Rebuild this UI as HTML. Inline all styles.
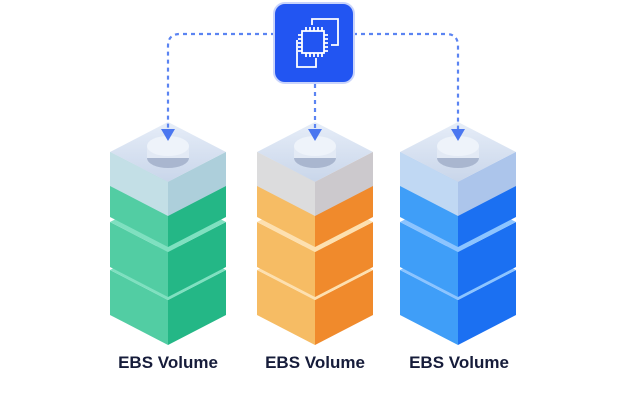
<!DOCTYPE html>
<html><head><style>
body{margin:0;background:#fff;width:628px;height:401px;overflow:hidden;font-family:"Liberation Sans",sans-serif}
.l{position:absolute;top:353px;font-weight:bold;font-size:17px;color:#161c3a;width:140px;text-align:center}
</style></head><body>
<svg width="628" height="401" style="position:absolute;left:0;top:0">
<defs>
<linearGradient id="gt" x1="0" y1="0" x2="0" y2="1"><stop offset="0" stop-color="#e6edf8"/><stop offset="1" stop-color="#c9d6ea"/></linearGradient>
</defs>
<g id="s"></g>
<g fill="none" stroke="#5b84f2" stroke-width="2.2" stroke-dasharray="4 4">
<path d="M275 34 H180 Q168 34 168 46 V129"/>
<path d="M353 34 H446 Q458 34 458 46 V129"/>
<path d="M315 84 V129"/>
</g>
<g fill="#4b77f0">
<polygon points="161,129 175,129 168,141"/>
<polygon points="308,129 322,129 315,141"/>
<polygon points="451,129 465,129 458,141"/>
</g>
<rect x="274" y="3" width="80" height="80" rx="11" fill="#2255f2" stroke="#c9d4fb" stroke-width="2"/>
<g fill="none" stroke="#fff" stroke-width="1.8">
<path d="M312 25 V19 H338 V45 H331"/>
<path d="M297 40 V67 H316 V58"/>
<rect x="302" y="31" width="22" height="22"/>
<path d="M306 27v4M310 27v4M314 27v4M318 27v4M322 27v4M306 53v4M310 53v4M314 53v4M318 53v4M322 53v4M298 35h4M298 39h4M298 43h4M298 47h4M298 51h4M324 35h4M324 39h4M324 43h4M324 47h4M324 51h4"/>
</g>
</svg>
<script>
var s=document.getElementById('s');var h='';
var stacks=[[168,'#52cda3','#24b786','#1fa87a','#7fe0c0'],[315,'#f6bc64','#f08a2c','#e07a20','#fde0b0'],[458,'#3f9ef8','#1b70f2','#1560dd','#8cc4ff']];
stacks.forEach(function(c){var x=c[0],w=58,d=30;
[[270,45],[222,45],[152,65]].forEach(function(b,i){var y=b[0],H=b[1];
h+='<polygon points="'+(x-w)+','+y+' '+x+','+(y+d)+' '+x+','+(y+d+H)+' '+(x-w)+','+(y+H)+'" fill="'+c[1]+'"/>';
h+='<polygon points="'+(x+w)+','+y+' '+x+','+(y+d)+' '+x+','+(y+d+H)+' '+(x+w)+','+(y+H)+'" fill="'+c[2]+'"/>';
if(i<2)h+='<polygon points="'+(x-w)+','+y+' '+x+','+(y-d)+' '+(x+w)+','+y+' '+x+','+(y+d)+'" fill="'+c[4]+'"/>';
});
var y=152;
h+='<polygon points="'+(x-w)+','+y+' '+x+','+(y+d)+' '+x+','+(y+d+34)+' '+(x-w)+','+(y+34)+'" fill="#d7e2f2" opacity="0.85"/>';
h+='<polygon points="'+(x+w)+','+y+' '+x+','+(y+d)+' '+x+','+(y+d+34)+' '+(x+w)+','+(y+34)+'" fill="#c6d3ea" opacity="0.85"/>';
h+='<polygon points="'+(x-w)+','+y+' '+x+','+(y-d)+' '+(x+w)+','+y+' '+x+','+(y+d)+'" fill="url(#gt)"/>';
h+='<ellipse cx="'+x+'" cy="158" rx="21" ry="10" fill="#a9b6cf"/><rect x="'+(x-21)+'" y="146" width="42" height="12" fill="#e3eaf5"/><ellipse cx="'+x+'" cy="146" rx="21" ry="10" fill="#eef3fa"/>';
});
s.innerHTML=h;
</script>
<div class="l" style="left:98px">EBS Volume</div>
<div class="l" style="left:245px">EBS Volume</div>
<div class="l" style="left:389px">EBS Volume</div>
</body></html>
